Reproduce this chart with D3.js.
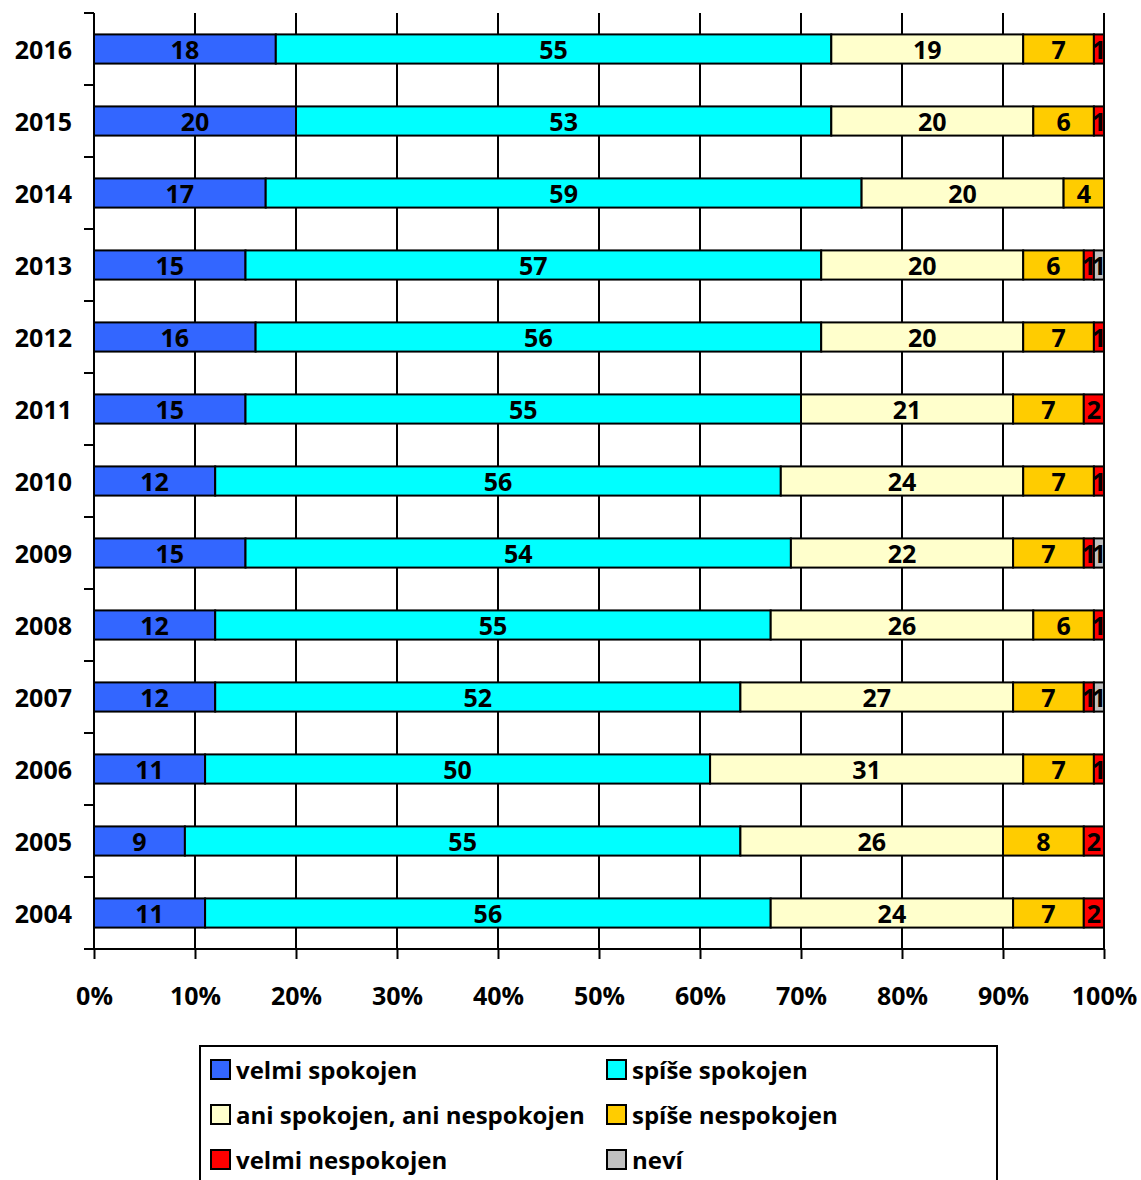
<!DOCTYPE html>
<html>
<head>
<meta charset="utf-8">
<script src="https://cdn.jsdelivr.net/npm/d3@7"></script>
<style>
  body { margin: 0; background: #fff; }
  text { font-family: "Open Sans", sans-serif; font-weight: bold; }
</style>
</head>
<body>
<script>
    var years = ["2016","2015","2014","2013","2012","2011","2010","2009","2008","2007","2006","2005","2004"]
    var seriesNames = ["velmi spokojen","spíše spokojen","ani spokojen, ani nespokojen","spíše nespokojen","velmi nespokojen","neví"]
    var seriesColors = ["#3366FF","#00FFFF","#FFFFCC","#FFCC00","#FF0000","#C0C0C0"]
    var velmiSpokojen   = [18,20,17,15,16,15,12,15,12,12,11,9,11]
    var spiseSpokojen   = [55,53,59,57,56,55,56,54,55,52,50,55,56]
    var aniAni          = [19,20,20,20,20,21,24,22,26,27,31,26,24]
    var spiseNespokojen = [7,6,4,6,7,7,7,7,6,7,7,8,7]
    var velmiNespokojen = [1,1,0,1,1,2,1,1,1,1,1,2,2]
    var nevi            = [0,0,0,1,0,0,0,1,0,1,0,0,0]
    var xTicks = [0,10,20,30,40,50,60,70,80,90,100]

    var margin = {top: 13, left: 94}
    var width = 1010, height = 936
    var fontSize = 25
    var allSeries = [velmiSpokojen, spiseSpokojen, aniAni, spiseNespokojen, velmiNespokojen, nevi]

    var svg = d3.select("body").append("svg")
        .attr("width", 1141)
        .attr("height", 1180);

    var x = d3.scaleLinear().domain([0, 100]).range([0, width]);
    var y = d3.scaleBand().domain(years).range([0, height]).paddingInner(0.595).paddingOuter(0.2975);
    var yBand = d3.scaleBand().domain(years).range([0, height]);

    var g = svg.append("g")
        .attr("transform", "translate(" + margin.left + "," + margin.top + ")");

    // gridlines
    g.selectAll(".grid")
      .data(xTicks)
      .enter().append("line")
        .attr("x1", function(d) { return x(d); })
        .attr("x2", function(d) { return x(d); })
        .attr("y1", 0)
        .attr("y2", height)
        .attr("stroke", "#000")
        .attr("stroke-width", 2);

    // stack rows
    var rows = years.map(function(yr, i) {
        var r = {year: yr};
        seriesNames.forEach(function(s, j) { r[s] = allSeries[j][i]; });
        return r;
    });
    var stacked = d3.stack().keys(seriesNames)(rows);

    var layer = g.selectAll(".layer")
      .data(stacked)
      .enter().append("g")
        .attr("fill", function(d, i) { return seriesColors[i]; });

    layer.selectAll("rect")
      .data(function(d) { return d.filter(function(p) { return p[1] - p[0] > 0; }); })
      .enter().append("rect")
        .attr("x", function(d) { return x(d[0]); })
        .attr("y", function(d) { return y(d.data.year); })
        .attr("width", function(d) { return x(d[1]) - x(d[0]); })
        .attr("height", y.bandwidth())
        .attr("stroke", "#000")
        .attr("stroke-width", 2);

    layer.selectAll("text")
      .data(function(d) { return d.filter(function(p) { return p[1] - p[0] > 0; }); })
      .enter().append("text")
        .attr("x", function(d) { return x((d[0] + d[1]) / 2); })
        .attr("y", function(d) { return y(d.data.year) + y.bandwidth() / 2 + 1; })
        .attr("dy", "0.36em")
        .attr("text-anchor", "middle")
        .attr("font-size", fontSize)
        .attr("fill", "#000")
        .text(function(d) { return d[1] - d[0]; });

    // left axis
    var yAxis = d3.axisLeft(yBand).tickSize(0).tickPadding(22);
    var ya = g.append("g").call(yAxis);
    ya.select(".domain").remove();
    ya.selectAll("text").attr("font-size", fontSize).attr("fill", "#000").attr("dy", "0.4em")
        .style("font-family", "'Open Sans', sans-serif");
    g.append("line").attr("x1", 0).attr("x2", 0).attr("y1", 0).attr("y2", height)
        .attr("stroke", "#000").attr("stroke-width", 2);
    g.selectAll(".ytick")
      .data(years.concat(["end"]))
      .enter().append("line")
        .attr("x1", -10).attr("x2", 0)
        .attr("y1", function(d, i) { return i * yBand.step(); })
        .attr("y2", function(d, i) { return i * yBand.step(); })
        .attr("stroke", "#000").attr("stroke-width", 2);

    // bottom axis
    var xAxis = d3.axisBottom(x).tickValues(xTicks).tickSize(10).tickPadding(28)
        .tickFormat(function(d) { return d + "%"; });
    var xa = g.append("g").attr("transform", "translate(0," + height + ")").call(xAxis);
    xa.select(".domain").remove();
    xa.selectAll("line").attr("stroke", "#000").attr("stroke-width", 2);
    xa.selectAll("text").attr("font-size", fontSize).attr("fill", "#000")
        .style("font-family", "'Open Sans', sans-serif");
    g.append("line").attr("x1", -10).attr("x2", width).attr("y1", height).attr("y2", height)
        .attr("stroke", "#000").attr("stroke-width", 2);

    // legend
    var legend = svg.append("g").attr("transform", "translate(200,1046)");
    legend.append("rect")
        .attr("width", 797).attr("height", 150)
        .attr("fill", "#fff").attr("stroke", "#000").attr("stroke-width", 2);

    var item = legend.selectAll(".item")
      .data(seriesNames)
      .enter().append("g")
        .attr("transform", function(d, i) { return "translate(" + (i % 2 ? 407 : 11) + "," + (24 + Math.floor(i / 2) * 45) + ")"; });
    item.append("rect")
        .attr("x", 0).attr("y", -10)
        .attr("width", 19).attr("height", 19)
        .attr("fill", function(d, i) { return seriesColors[i]; })
        .attr("stroke", "#000").attr("stroke-width", 2);
    item.append("text")
        .attr("x", 25).attr("dy", "0.36em")
        .attr("font-size", 24)
        .text(function(d) { return d; });
</script>
</body>
</html>
